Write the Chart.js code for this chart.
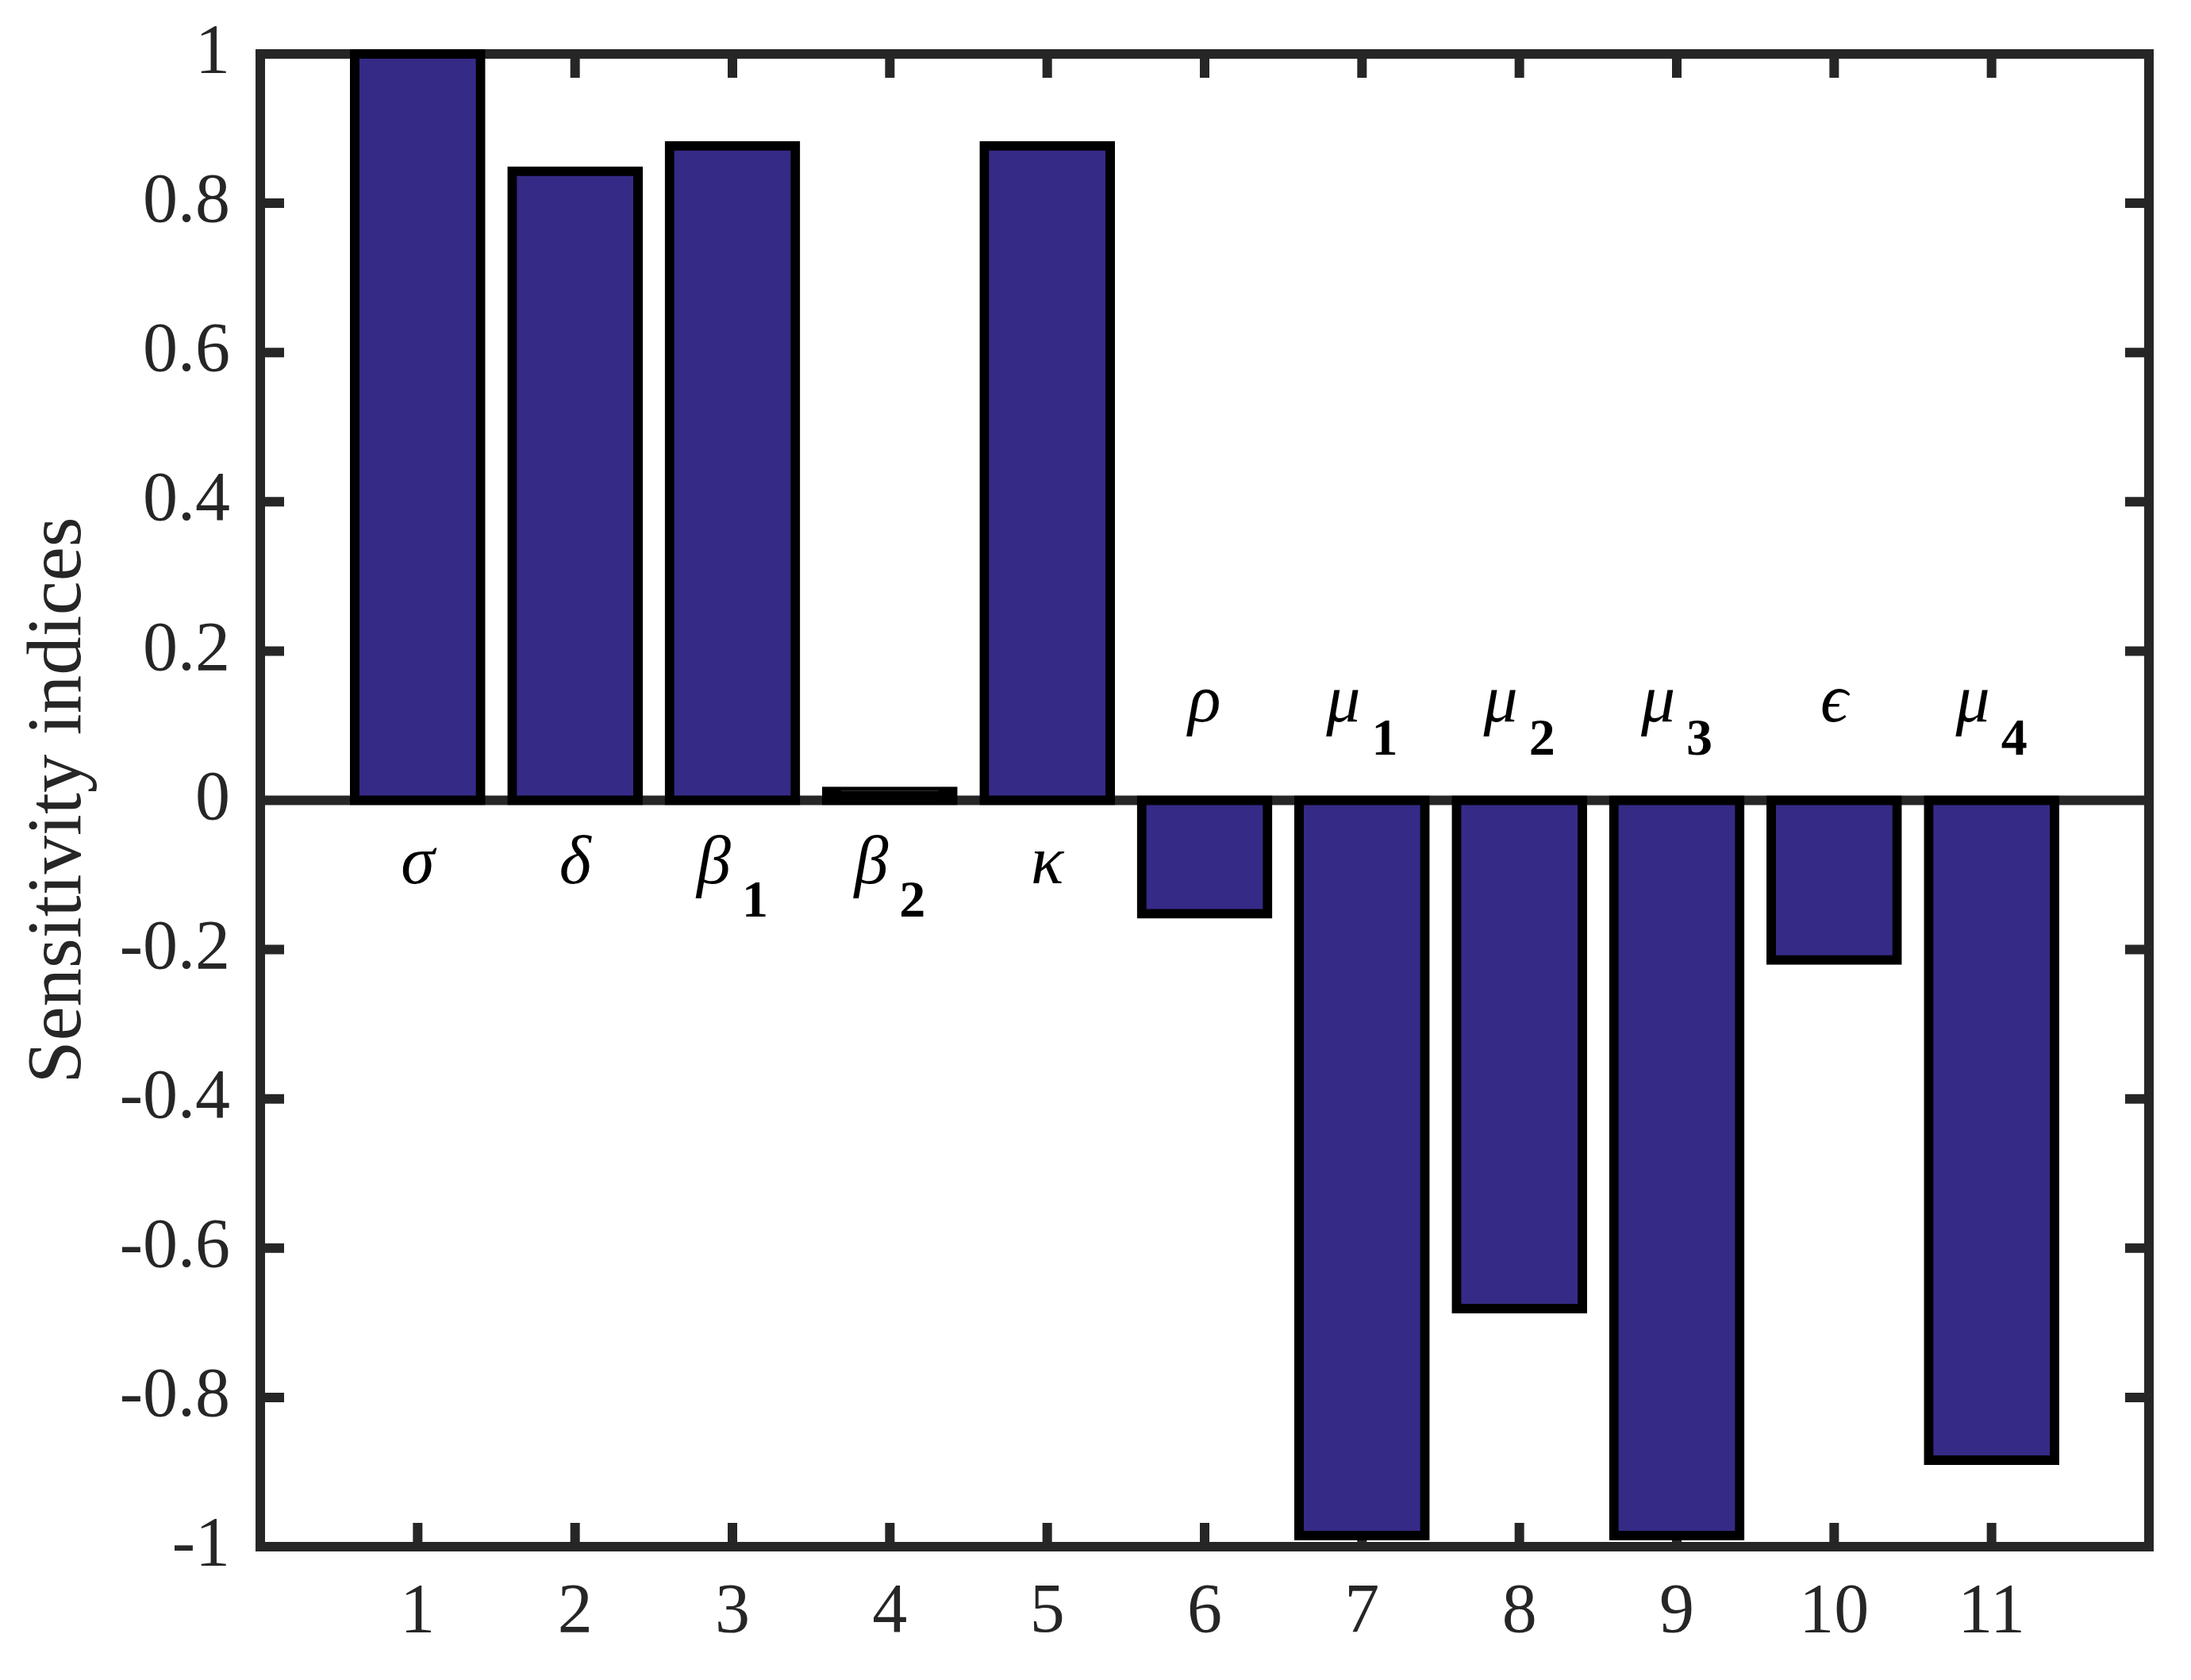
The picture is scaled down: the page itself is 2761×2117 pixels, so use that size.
<!DOCTYPE html>
<html>
<head>
<meta charset="utf-8">
<script src="https://cdn.jsdelivr.net/npm/chart.js@4.4.1/dist/chart.umd.min.js"></script>
<style>
  html, body { margin: 0; padding: 0; background: #fff; }
  canvas { display: block; }
</style>
</head>
<body>
<canvas id="sensChart" width="2761" height="2117"></canvas>
<script>
// parameter index on the x axis
const categories = [1, 2, 3, 4, 5, 6, 7, 8, 9, 10, 11];
// sensitivity index of each parameter
const sensitivity = [1.0, 0.843, 0.877, 0.012, 0.877, -0.152, -0.985, -0.681, -0.985, -0.214, -0.884];
// parameter symbol and its subscript
const paramSymbols = ["σ", "δ", "β", "β", "κ", "ρ", "μ", "μ", "μ", "ϵ", "μ"];
const paramSubs = ["", "", "1", "2", "", "", "1", "2", "3", "", "4"];

const axisColor = "#262626";
const barFill = "#352a86";
const serif = "'Liberation Serif', 'Times New Roman', serif";

// inward tick marks on all four sides + the zero baseline
const boxTicks = {
    id: "boxTicks",
    beforeDatasetsDraw(chart) {
        const { ctx, chartArea: a, scales } = chart;
        const len = 30;
        ctx.save();
        ctx.strokeStyle = axisColor;
        ctx.lineWidth = 12;
        ctx.lineCap = "butt";
        ctx.beginPath();
        scales.x.ticks.forEach((t) => {
            const px = scales.x.getPixelForValue(t.value);
            ctx.moveTo(px, a.bottom); ctx.lineTo(px, a.bottom - len);
            ctx.moveTo(px, a.top); ctx.lineTo(px, a.top + len);
        });
        scales.y.ticks.forEach((t) => {
            const py = scales.y.getPixelForValue(t.value);
            ctx.moveTo(a.left, py); ctx.lineTo(a.left + len, py);
            ctx.moveTo(a.right, py); ctx.lineTo(a.right - len, py);
        });
        const y0 = scales.y.getPixelForValue(0);
        ctx.moveTo(a.left, y0); ctx.lineTo(a.right, y0);
        ctx.stroke();
        ctx.restore();
    },
};

// greek parameter names next to the baseline
const paramLabels = {
    id: "paramLabels",
    afterDatasetsDraw(chart) {
        const { ctx, scales } = chart;
        const y0 = scales.y.getPixelForValue(0);
        const mainFont = "italic 86px " + serif;
        const subFont = "bold 66px " + serif;
        ctx.save();
        ctx.fillStyle = "#000";
        ctx.textAlign = "left";
        ctx.textBaseline = "alphabetic";
        categories.forEach((c, i) => {
            const x = scales.x.getPixelForValue(c);
            const base = sensitivity[i] >= 0 ? y0 + 104 : y0 - 100;
            ctx.font = mainFont;
            const w1 = ctx.measureText(paramSymbols[i]).width;
            ctx.font = subFont;
            const w2 = paramSubs[i] ? ctx.measureText(paramSubs[i]).width : 0;
            const gap = paramSubs[i] ? 14 : 0;
            const start = x - (w1 + gap + w2) / 2;
            ctx.font = mainFont;
            ctx.fillText(paramSymbols[i], start, base);
            if (paramSubs[i]) {
                ctx.font = subFont;
                ctx.fillText(paramSubs[i], start + w1 + gap, base + 42);
            }
        });
        ctx.restore();
    },
};

const hiddenGrid = { display: false, drawTicks: false, lineWidth: 12 };
const axisBorder = { display: true, width: 12, color: axisColor };

const ctx = document.getElementById("sensChart").getContext("2d");
new Chart(ctx, {
    type: "bar",
    data: {
        datasets: [{
            data: categories.map((c, i) => ({ x: c, y: sensitivity[i] })),
            backgroundColor: (c) => {
                // a bar thinner than its outline shows as solid black
                const ys = c.chart.scales.y;
                if (!ys || !c.raw) return barFill;
                const h = Math.abs(ys.getPixelForValue(c.raw.y) - ys.getPixelForValue(0));
                return h < 12 ? "#000" : barFill;
            },
            borderColor: "#000",
            borderWidth: 12,
            borderSkipped: false,
            inflateAmount: 6,
            barPercentage: 0.8,
            categoryPercentage: 1.0,
            clip: false,
        }],
    },
    options: {
        responsive: false,
        animation: false,
        devicePixelRatio: 1,
        layout: { padding: 0 },
        plugins: {
            legend: { display: false },
            tooltip: { enabled: false },
        },
        scales: {
            x: {
                type: "linear",
                position: "bottom",
                offset: false,
                min: 0,
                max: 12,
                afterBuildTicks: (s) => { s.ticks = categories.map((v) => ({ value: v })); },
                afterFit: (s) => { s.height = 168; },
                grid: hiddenGrid,
                border: axisBorder,
                ticks: {
                    padding: 31,
                    color: axisColor,
                    font: { family: serif, size: 88 },
                    maxRotation: 0,
                    autoSkip: false,
                    callback: (v) => String(v),
                },
            },
            x2: {
                type: "linear",
                position: "top",
                offset: false,
                min: 0,
                max: 12,
                afterFit: (s) => { s.height = 68; },
                grid: hiddenGrid,
                border: axisBorder,
                ticks: { display: false },
            },
            y: {
                position: "left",
                min: -1,
                max: 1,
                afterFit: (s) => {
                    s.width = 328;
                    // don't let the top/bottom labels push the plot area in
                    s.paddingTop = 0;
                    s.paddingBottom = 0;
                },
                grid: hiddenGrid,
                border: axisBorder,
                ticks: {
                    stepSize: 0.2,
                    padding: 38,
                    color: axisColor,
                    font: { family: serif, size: 88 },
                    callback: (v) => {
                        const r = Math.round(v * 10) / 10;
                        return r === 0 ? "0" : String(r);
                    },
                },
                title: {
                    display: true,
                    text: "Sensitivity indices",
                    color: axisColor,
                    font: { family: serif, size: 97, lineHeight: 1.2 },
                    padding: { top: 17, bottom: 0 },
                },
            },
            y2: {
                position: "right",
                min: -1,
                max: 1,
                afterFit: (s) => {
                    s.width = 53;
                    s.paddingTop = 0;
                    s.paddingBottom = 0;
                },
                grid: hiddenGrid,
                border: axisBorder,
                ticks: { display: false },
            },
        },
    },
    plugins: [boxTicks, paramLabels],
});
</script>
</body>
</html>
